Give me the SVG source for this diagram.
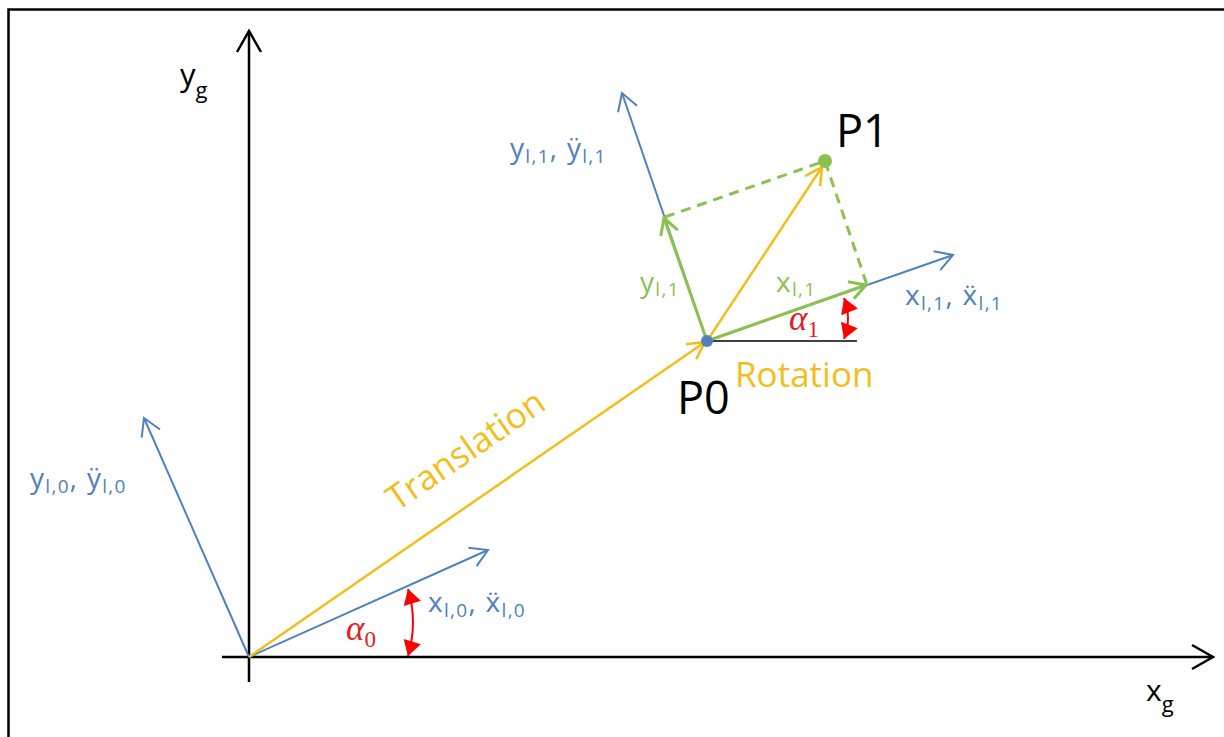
<svg xmlns="http://www.w3.org/2000/svg" width="1224" height="737" viewBox="0 0 1224 737">
<style>
.t{font-family:"Open Sans","Noto Sans","DejaVu Sans",sans-serif}
.blue{fill:#4f81bd}
.green{fill:#8cc152}
.yel{fill:#f2be1a}
.lab{font-size:28px;letter-spacing:1.3px}
.sub{font-size:19px}
.alpha{font-family:"Liberation Serif","DejaVu Serif",serif;fill:#e0201f}
.bl{stroke:#4f81bd;stroke-width:2;fill:none}
.gr{stroke:#8cc152;stroke-width:3;fill:none}
.ye{stroke:#f2be1a;stroke-width:2.5;fill:none}
.bk{stroke:#000;stroke-width:2.5;fill:none}
.rd{stroke:#ff0000;stroke-width:2;fill:none}
</style>
<defs>
<marker id="mb" viewBox="-20 -12 24 24" refX="0" refY="0" markerWidth="24" markerHeight="24" orient="auto" markerUnits="userSpaceOnUse"><path d="M-17,-10 L0,0 L-17,10" fill="none" stroke="#4f81bd" stroke-width="2"/></marker>
<marker id="mk" viewBox="-24 -14 28 28" refX="0" refY="0" markerWidth="28" markerHeight="28" orient="auto" markerUnits="userSpaceOnUse"><path d="M-21,-12 L0,0 L-21,12" fill="none" stroke="#000" stroke-width="2.5"/></marker>
<marker id="mg" viewBox="-20 -12 24 24" refX="0" refY="0" markerWidth="24" markerHeight="24" orient="auto" markerUnits="userSpaceOnUse"><path d="M-16,-9 L0,0 L-16,9" fill="none" stroke="#8cc152" stroke-width="3"/></marker>
<marker id="my" viewBox="-20 -12 24 24" refX="0" refY="0" markerWidth="24" markerHeight="24" orient="auto" markerUnits="userSpaceOnUse"><path d="M-17,-9 L0,0 L-17,9" fill="none" stroke="#f2be1a" stroke-width="2.5"/></marker>
<marker id="mr" viewBox="-17 -10 19 20" refX="0" refY="0" markerWidth="19" markerHeight="20" orient="auto-start-reverse" markerUnits="userSpaceOnUse"><path d="M-15,-9 L0,0 L-15,9 Z" fill="#ff0000"/></marker>
</defs>
<rect width="1224" height="737" fill="#fff"/>
<g id="frame"><rect x="8.5" y="9.5" width="1240" height="760" fill="none" stroke="#000" stroke-width="2.5"/></g>

<g id="connectors">
<line class="bk" x1="249" y1="682" x2="249" y2="31" marker-end="url(#mk)"/>
<line class="bk" x1="222" y1="657" x2="1213" y2="657" marker-end="url(#mk)"/>
<line class="bl" x1="249" y1="657" x2="488" y2="550" marker-end="url(#mb)"/>
<line class="bl" x1="249" y1="657" x2="144" y2="418" marker-end="url(#mb)"/>
<line class="ye" x1="249" y1="657" x2="705" y2="342" marker-end="url(#my)"/>
<line class="bl" x1="707" y1="341" x2="953" y2="255" marker-end="url(#mb)"/>
<line class="bl" x1="707" y1="341" x2="622" y2="93" marker-end="url(#mb)"/>
<line x1="707" y1="341" x2="857" y2="341" stroke="#000" stroke-width="1.5"/>
<line class="gr" x1="707" y1="341" x2="866" y2="285" marker-end="url(#mg)"/>
<line class="gr" x1="707" y1="341" x2="664" y2="218" marker-end="url(#mg)"/>
<path class="gr" d="M665,217 L825,161 L867,285" stroke-dasharray="10,7"/>
<line class="ye" x1="707" y1="341" x2="822" y2="167" marker-end="url(#my)"/>
<path class="rd" d="M844,298 Q852,318 844,339" marker-start="url(#mr)" marker-end="url(#mr)"/>
<path class="rd" d="M408,589 Q418,622 408,656" marker-start="url(#mr)" marker-end="url(#mr)"/>
</g>

<g id="node-P0">
<circle cx="707" cy="341" r="6" fill="#4f81bd"/>
<text class="t" x="677" y="414" font-size="45" fill="#000">P0</text>
</g>
<g id="node-P1">
<circle cx="825" cy="161" r="7" fill="#8cc152"/>
<text class="t" x="836" y="147" font-size="45" fill="#000">P1</text>
</g>

<g id="labels">
<text class="t" x="180" y="86" font-size="31" fill="#000">y<tspan font-size="22" dy="12">g</tspan></text>
<text class="t" x="1146" y="701" font-size="30" fill="#000">x<tspan font-size="22" dy="11">g</tspan></text>
<text class="t yel" x="735" y="387" font-size="35">Rotation</text>
<text class="t yel" font-size="35" transform="translate(397,512) rotate(-34.5)">Translation</text>
<text class="t blue lab" x="510" y="158">y<tspan class="sub" dy="5">l,1</tspan><tspan dy="-5">, ÿ</tspan><tspan class="sub" dy="5">l,1</tspan></text>
<text class="t blue lab" x="905" y="305">x<tspan class="sub" dy="5">l,1</tspan><tspan dy="-5">, ẍ</tspan><tspan class="sub" dy="5">l,1</tspan></text>
<text class="t blue lab" x="30" y="488">y<tspan class="sub" dy="5">l,0</tspan><tspan dy="-5">, ÿ</tspan><tspan class="sub" dy="5">l,0</tspan></text>
<text class="t blue lab" x="428" y="612">x<tspan class="sub" dy="5">l,0</tspan><tspan dy="-5">, ẍ</tspan><tspan class="sub" dy="5">l,0</tspan></text>
<text class="t green lab" x="640" y="292">y<tspan class="sub" dy="4">l,1</tspan></text>
<text class="t green lab" x="776" y="292">x<tspan class="sub" dy="4">l,1</tspan></text>
<text class="alpha" x="789" y="330" font-size="35" font-style="italic">α<tspan font-style="normal" font-size="23" dy="7">1</tspan></text>
<text class="alpha" x="346" y="640" font-size="35" font-style="italic">α<tspan font-style="normal" font-size="23" dy="7">0</tspan></text>
</g>
</svg>
